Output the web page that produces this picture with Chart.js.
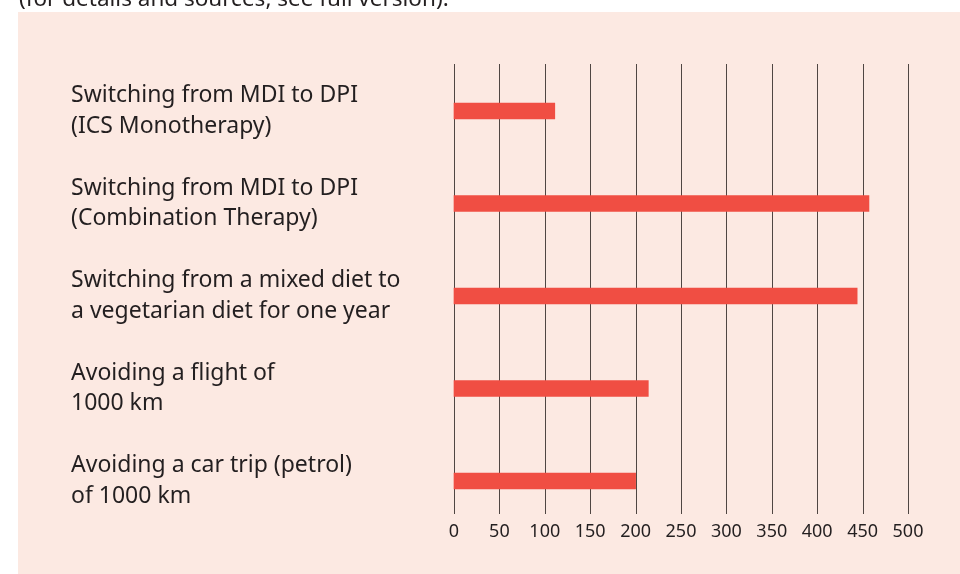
<!DOCTYPE html>
<html>
<head>
<meta charset="utf-8">
<script src="https://cdn.jsdelivr.net/npm/chart.js@4/dist/chart.umd.min.js"></script>
<style>
  html, body { margin: 0; padding: 0; background: #ffffff; }
  #wrap { position: relative; width: 960px; height: 574px; }
</style>
</head>
<body>
<div id="wrap"><canvas id="bar-co2" width="960" height="574"></canvas></div>
<script>
var labels = [
  ['Switching from MDI to DPI', '(ICS Monotherapy)'],
  ['Switching from MDI to DPI', '(Combination Therapy)'],
  ['Switching from a mixed diet to', 'a vegetarian diet for one year'],
  ['Avoiding a flight of', '1000 km'],
  ['Avoiding a car trip (petrol)', 'of 1000 km']
];
var savings = [111, 457, 444, 214, 200];
var xTicks = [0, 50, 100, 150, 200, 250, 300, 350, 400, 450, 500];

var FONT = '"Noto Sans", "Open Sans", sans-serif';
var TEXT = '#231f20';

// panel background, cut-off note on top and the vertical grid lines
var panel = {
  id: 'panel',
  beforeDraw: function(chart) {
    var c = chart.ctx;
    c.save();
    c.fillStyle = '#fce9e2';
    c.fillRect(18, 12, 942, 562);
    c.fillStyle = TEXT;
    c.font = '22.5px ' + FONT;
    c.textBaseline = 'alphabetic';
    c.fillText('(for details and sources, see full version).', 19, 6);
    c.restore();
  },
  beforeDatasetsDraw: function(chart) {
    var c = chart.ctx, x = chart.scales.x, a = chart.chartArea;
    c.save();
    c.strokeStyle = '#4f4643';
    c.lineWidth = 1;
    xTicks.forEach(function(v) {
      var px = Math.round(x.getPixelForValue(v)) + 0.5;
      c.beginPath();
      c.moveTo(px, a.top - 47);
      c.lineTo(px, a.bottom + 33);
      c.stroke();
    });
    c.restore();
  }
};

new Chart(document.getElementById('bar-co2'), {
  type: 'bar',
  data: {
    labels: labels,
    datasets: [{
      data: savings,
      backgroundColor: '#f04e43',
      borderWidth: 0,
      barThickness: 16,
      clip: false
    }]
  },
  options: {
    indexAxis: 'y',
    responsive: false,
    animation: false,
    layout: { padding: { left: 71, right: 52, top: 111, bottom: 0 } },
    plugins: { legend: { display: false }, tooltip: { enabled: false } },
    scales: {
      x: {
        min: 0,
        max: 500,
        afterBuildTicks: function(s) { s.ticks = xTicks.map(function(v) { return { value: v }; }); },
        afterFit: function(s) { s.height = 93; s.paddingLeft = 0; s.paddingRight = 0; },
        grid: { display: false, drawTicks: false },
        border: { display: false },
        ticks: { color: TEXT, font: { family: FONT, size: 18 }, padding: 40, maxRotation: 0, autoSkip: false }
      },
      y: {
        offset: false,
        afterFit: function(s) { s.width = 383; s.paddingTop = 0; s.paddingBottom = 0; },
        grid: { display: false, drawTicks: false },
        border: { display: false },
        ticks: { color: TEXT, crossAlign: 'far', padding: 0, font: { family: FONT, size: 23, lineHeight: 1.31 } }
      }
    }
  },
  plugins: [panel]
});
</script>
</body>
</html>
